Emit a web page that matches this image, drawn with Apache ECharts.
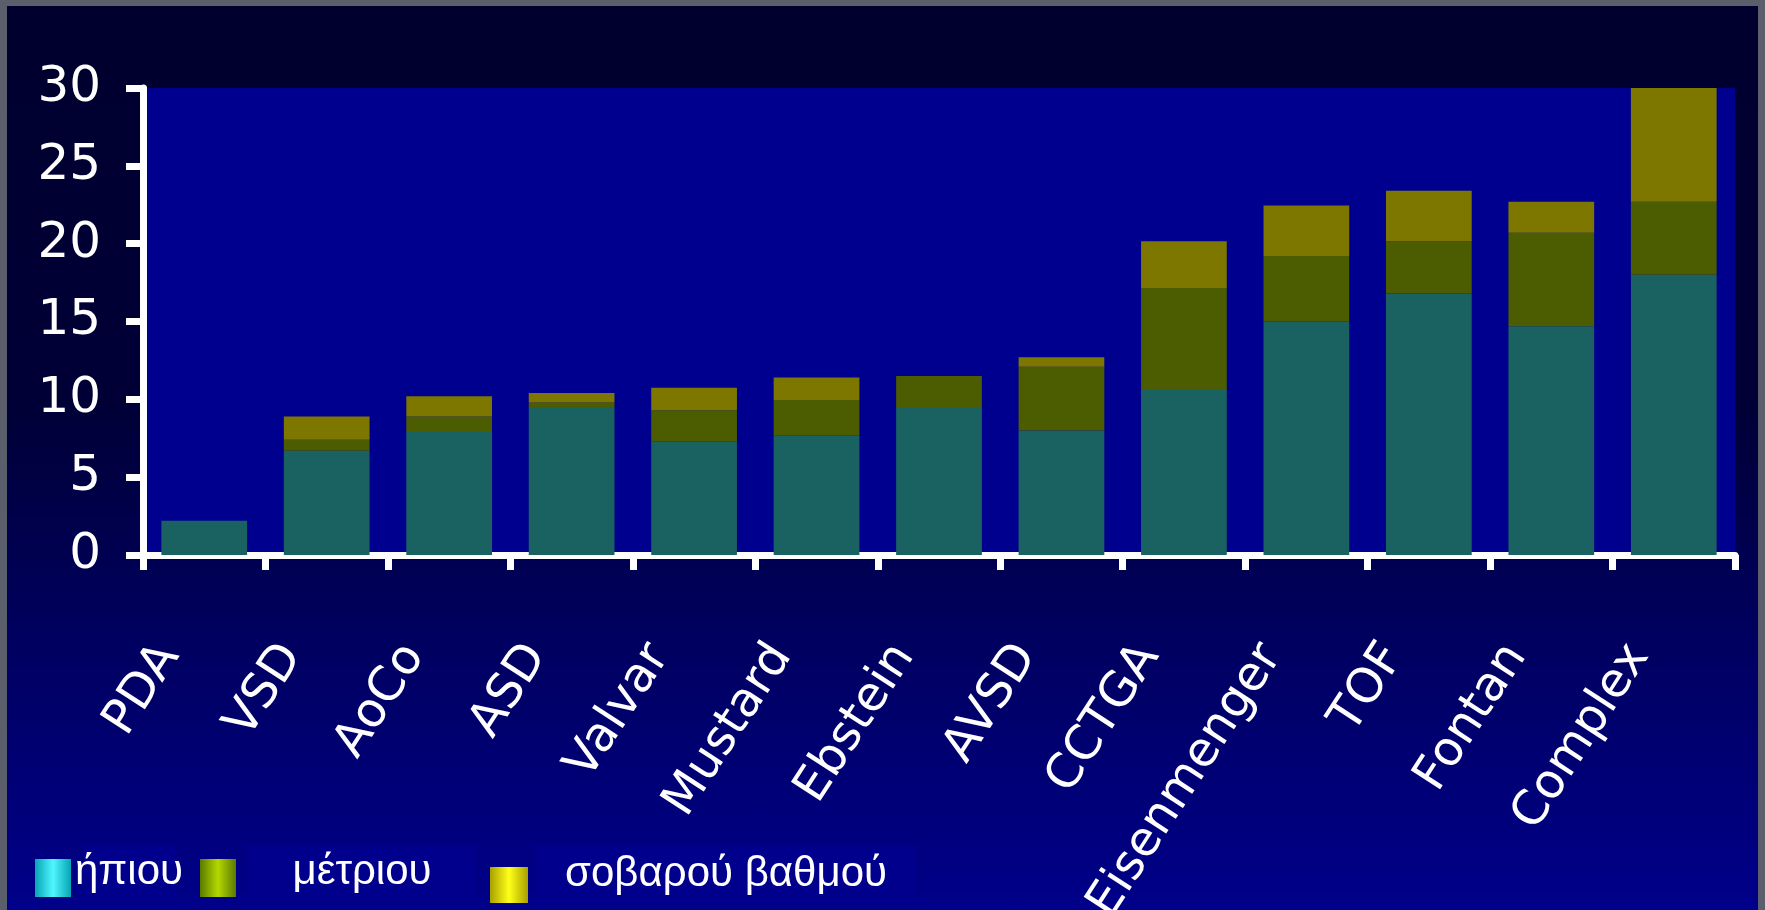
<!DOCTYPE html>
<html>
<head>
<meta charset="utf-8">
<title>Stacked bars</title>
<script src="https://cdn.jsdelivr.net/npm/echarts@6/dist/echarts.min.js"></script>
<style>
  html, body {
    margin: 0;
    padding: 0;
    width: 1765px;
    height: 910px;
    background: #5b5e6b;
    overflow: hidden;
  }
  #chart {
    position: absolute;
    left: 7px;
    top: 6px;
    width: 1751px;
    height: 904px;
    background: linear-gradient(to bottom, #00002e 0%, #000038 45%, #000060 70%, #00008a 100%);
  }
</style>
</head>
<body>
<div id="chart"></div>
<script>
// categories on the x axis
const categories = ['PDA', 'VSD', 'AoCo', 'ASD', 'Valvar', 'Mustard', 'Ebstein', 'AVSD', 'CCTGA', 'Eisenmenger', 'TOF', 'Fontan', 'Complex']

// series names (legend)
const seriesNames = ['ήπιου', 'μέτριου', 'σοβαρού βαθμού']

// stacked values
const mild = [2.2, 6.7, 7.9, 9.5, 7.3, 7.7, 9.5, 8.0, 10.6, 15.0, 16.8, 14.7, 18.0]
const moderate = [0, 0.7, 1.0, 0.3, 2.0, 2.25, 2.0, 4.1, 6.55, 4.2, 3.35, 6.0, 4.7]
const severe = [0, 1.5, 1.3, 0.6, 1.45, 1.45, 0, 0.6, 3.0, 3.25, 3.25, 2.0, 7.3]

// y axis ticks
const yMin = 0
const yMax = 30
const yStep = 5

const barColors = ['#1a6262', '#4b5d00', '#7d7700']

const chart = echarts.init(document.getElementById('chart'))

// chart div sits 7px right / 6px down from the page corner
const ox = 7
const oy = 6

function legendSquare(x, y, w, h, edge, mid) {
  return {
    type: 'rect',
    shape: { x: x - ox, y: y - oy, width: w, height: h },
    style: {
      fill: new echarts.graphic.LinearGradient(0, 0, 1, 0, [
        { offset: 0, color: edge },
        { offset: 0.5, color: mid },
        { offset: 1, color: edge }
      ])
    }
  }
}

function legendBox(x, y, w, h, label) {
  return {
    type: 'group',
    children: [
      { type: 'rect', shape: { x: x - ox, y: y - oy, width: w, height: h }, style: { fill: '#00008c' } },
      {
        type: 'text',
        x: x - ox + w / 2,
        y: y - oy + h / 2,
        style: {
          text: label,
          fill: '#ffffff',
          font: '42px "Liberation Sans", Arial, sans-serif',
          align: 'center',
          verticalAlign: 'middle'
        }
      }
    ]
  }
}

const option = {
  backgroundColor: 'transparent',
  animation: false,
  grid: {
    left: 136,
    right: 23,
    top: 82,
    bottom: 355,
    outerBoundsMode: 'none',
    containLabel: false,
    show: true,
    backgroundColor: '#00008e',
    borderWidth: 0
  },
  xAxis: {
    type: 'category',
    data: categories,
    axisLine: { lineStyle: { color: '#ffffff', width: 7 } },
    axisTick: { show: true, length: 15, lineStyle: { color: '#ffffff', width: 7 } },
    axisLabel: {
      interval: 0,
      rotate: 57,
      margin: 40,
      color: '#ffffff',
      fontSize: 48,
      fontFamily: '"DejaVu Sans", sans-serif',
      // trailing blank pushes each name down-left of its tick, as in the slide
      formatter: (v) => '{t|' + v + '}{s|}',
      rich: {
        t: { color: '#ffffff', fontSize: 48, fontFamily: '"DejaVu Sans", sans-serif' },
        s: { width: 64 }
      }
    }
  },
  yAxis: {
    type: 'value',
    min: yMin,
    max: yMax,
    interval: yStep,
    axisLine: { show: true, lineStyle: { color: '#ffffff', width: 7 } },
    axisTick: { show: true, length: 17, lineStyle: { color: '#ffffff', width: 7 } },
    splitLine: { show: false },
    axisLabel: {
      margin: 42,
      color: '#ffffff',
      fontSize: 50,
      fontFamily: '"DejaVu Sans", sans-serif'
    }
  },
  series: [mild, moderate, severe].map((values, i) => ({
    name: seriesNames[i],
    type: 'bar',
    stack: 'total',
    barWidth: '70%',
    data: values,
    itemStyle: { color: barColors[i] },
    emphasis: { disabled: true }
  })),
  graphic: [
    legendSquare(35, 859, 36, 38, '#06a4b4', '#4ff6ff'),
    legendBox(83, 845, 92, 54, seriesNames[0]),
    legendSquare(200, 859, 36, 38, '#5a7a00', '#b4d800'),
    legendBox(248, 845, 228, 54, seriesNames[1]),
    legendSquare(490, 867, 38, 36, '#a8a000', '#ffff18'),
    legendBox(536, 845, 380, 58, seriesNames[2])
  ]
}

chart.setOption(option)
</script>
</body>
</html>
